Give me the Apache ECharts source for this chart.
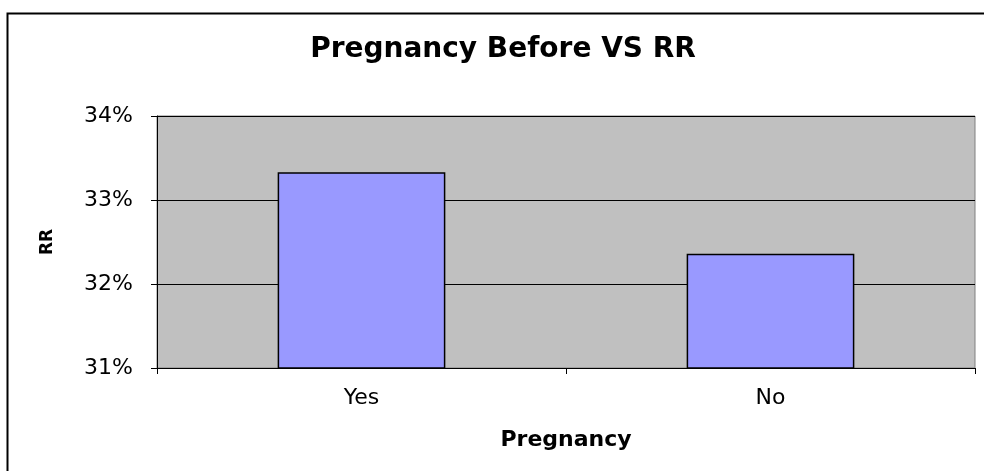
<!DOCTYPE html>
<html><head><meta charset="utf-8">
<script src="https://cdn.jsdelivr.net/npm/echarts@6/dist/echarts.min.js"></script>
<style>html,body{margin:0;padding:0;background:#fff}#c{width:984px;height:471px}</style>
</head><body><div id="c"></div>
<script>
const categories = ['Yes', 'No'];
const rrValues = [33.33, 32.36];
const yTicks = [31, 32, 33, 34];

const chart = echarts.init(document.getElementById('c'));
const font = '"DejaVu Sans", sans-serif';
chart.setOption({
  animation: false,
  title: {
    text: 'Pregnancy Before VS RR', left: 498, top: 31, textAlign: 'center',
    textStyle: { fontFamily: font, fontSize: 28, fontWeight: 'bold', color: '#000' }
  },
  graphic: [{
    type: 'rect', left: 5, top: 11, z: -10,
    shape: { width: 1000, height: 480 },
    style: { fill: 'none', stroke: '#000', lineWidth: 2 }
  }],
  grid: {
    left: 157, top: 116, width: 818, height: 252,
    show: true, backgroundColor: '#C0C0C0', borderColor: '#808080', borderWidth: 1
  },
  xAxis: {
    type: 'category', data: categories,
    name: 'Pregnancy', nameLocation: 'middle', nameGap: 61,
    nameTextStyle: { fontFamily: font, fontSize: 22, fontWeight: 'bold', color: '#000' },
    axisLine: { lineStyle: { color: '#000', width: 1 } },
    axisTick: { show: true, length: 6, lineStyle: { color: '#000' } },
    axisLabel: { fontFamily: font, fontSize: 22, color: '#000', margin: 19 }
  },
  yAxis: {
    type: 'value', min: 31, max: 34, interval: 1,
    name: 'RR', nameLocation: 'middle', nameGap: 101, nameRotate: 90,
    nameTextStyle: { fontFamily: font, fontSize: 17, fontWeight: 'bold', color: '#000' },
    axisLine: { show: true, lineStyle: { color: '#000', width: 1 } },
    axisTick: { show: true, length: 6, lineStyle: { color: '#000' } },
    axisLabel: { fontFamily: font, fontSize: 22, color: '#000', margin: 24,
      formatter: v => yTicks.includes(v) ? v + '%' : '' },
    splitLine: { show: true, lineStyle: { color: '#000', width: 1 } }
  },
  series: [{
    type: 'bar', data: rrValues, barWidth: '41%',
    itemStyle: { color: '#9999FF', borderColor: '#000', borderWidth: 1.5 }
  }]
});
</script></body></html>
